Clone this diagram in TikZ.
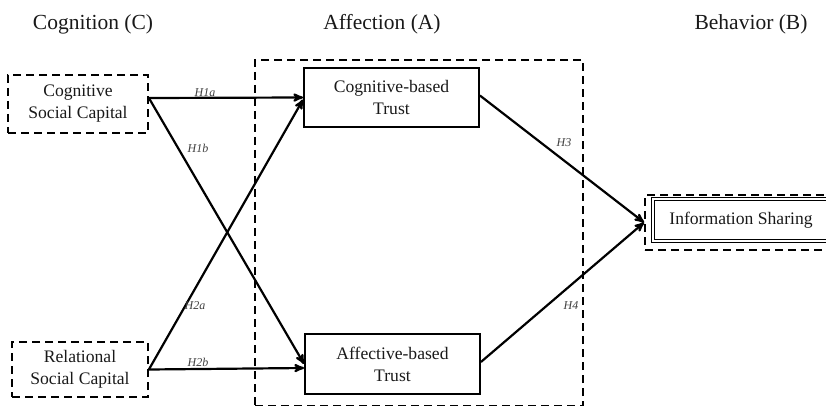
\documentclass[tikz,border=0pt]{standalone}
\usepackage{fontspec}
\setmainfont{Liberation Serif}
\usetikzlibrary{arrows,positioning}
\tikzset{
    %Define standard arrow tip
    >=stealth',
    %Define style for boxes
    construct/.style={
           rectangle,
           draw=black, line width=1.8pt,
           dash pattern=on 8pt off 5pt,
           inner sep=0pt,
           align=center,
           font=\fontsize{17.6}{22}\selectfont,
           text=black!90,
           },
    trustbox/.style={
           rectangle,
           draw=black, line width=1.8pt,
           inner sep=0pt,
           align=center,
           font=\fontsize{17.6}{22}\selectfont,
           text=black!90,
           },
    outcome/.style={
           rectangle,
           draw=black, line width=1.1pt,
           double, double distance=1.8pt,
           inner sep=0pt,
           font=\fontsize{17.6}{22}\selectfont,
           text=black!90,
           },
    group/.style={
           rectangle,
           draw=black, line width=1.8pt,
           dash pattern=on 8pt off 5pt,
           inner sep=0pt,
           },
    heading/.style={
           font=\fontsize{21.5}{25}\selectfont,
           text=black!90,
           },
    hlabel/.style={
           font=\fontsize{12}{14}\selectfont\itshape,
           text=black!75,
           inner sep=1pt,
           },
    % Define arrow style
    hyp/.style={
           ->,
           line width=2.2pt,},
}
\begin{document}
\begin{tikzpicture}[x=1pt,y=-1pt]
\useasboundingbox (0,0) rectangle (826,406);
% headings
\node[heading] (cogh) at (93,24) {Cognition (C)};
\node[heading] (affh) at (382,24) {Affection (A)};
\node[heading] (behh) at (751,24) {Behavior (B)};
% boxes
\node[group, minimum width=328pt, minimum height=346pt] (affect) at (419,233) {};
\node[construct, minimum width=140pt, minimum height=58pt] (cogsc) at (78,104) {Cognitive\\Social Capital};
\node[construct, minimum width=136pt, minimum height=55pt] (relsc) at (80,369.5) {Relational\\Social Capital};
\node[trustbox, minimum width=175pt, minimum height=59pt] (cogtr) at (391.5,97.5) {Cognitive-based\\Trust};
\node[trustbox, minimum width=175pt, minimum height=60pt] (afftr) at (392.5,364) {Affective-based\\Trust};
\node[construct, minimum width=192pt, minimum height=55pt] (behav) at (741,222.5) {};
\node[outcome, minimum width=176pt, minimum height=42pt] (infosh) at (741,220) {Information Sharing};
% hypotheses
\draw[hyp] ([yshift=6pt]cogsc.east) -- (cogtr.west);
\draw[hyp] ([yshift=6pt]cogsc.east) -- (afftr.west);
\draw[hyp] (relsc.east) -- ([yshift=-2pt]cogtr.west);
\draw[hyp] (relsc.east) -- ([yshift=-4pt]afftr.west);
\draw[hyp] ([yshift=2pt]cogtr.east) -- (behav.west);
\draw[hyp] ([yshift=2pt]afftr.east) -- (behav.west);
\node[hlabel] (h1a) at (205,93) {H1a};
\node[hlabel] (h1b) at (198,148) {H1b};
\node[hlabel] (h2a) at (195,306) {H2a};
\node[hlabel] (h2b) at (198,362) {H2b};
\node[hlabel] (h3) at (564,143) {H3};
\node[hlabel] (h4) at (571,306) {H4};
\end{tikzpicture}
\end{document}
